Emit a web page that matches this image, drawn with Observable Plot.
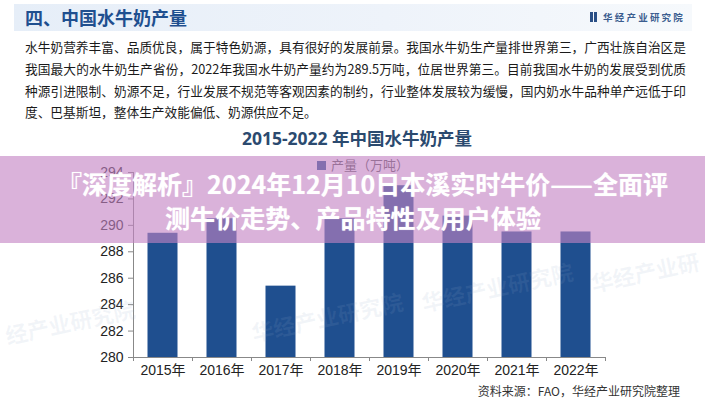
<!DOCTYPE html>
<html>
<head>
<meta charset="utf-8">
<script src="https://cdn.jsdelivr.net/npm/d3@7"></script>
<script src="https://cdn.jsdelivr.net/npm/@observablehq/plot@0.6"></script>
<style>
  html, body { margin: 0; padding: 0; background: #fff; }
  #page { position: relative; width: 705px; height: 400px; overflow: hidden; background: #fff;
          font-family: "Noto Sans CJK SC", "Noto Sans", sans-serif; }
  .abs { position: absolute; }
  #band { left: 14px; top: 4px; width: 678px; height: 27px;
          background: linear-gradient(to right, #e6eef8 0%, #eef3fa 55%, #f6f9fc 100%); }
  #h1 { left: 25px; top: 4px; font-size: 18px; font-weight: bold; color: #1f4f8f; line-height: 27px; }
  #logo { right: 20px; top: 4px; font-size: 9.5px; font-weight: bold; color: #3b5d8f; line-height: 27px; letter-spacing: 2.2px; }
  #logo b { display: inline-block; width: 3px; height: 10px; background: #2a4f86; margin-right: 1px; vertical-align: -1px; }
  #logo b + b { margin-right: 6px; }
  .pl { left: 25px; width: 661px; font-size: 12.7px; color: #1a1a1a; line-height: 16px;
        text-align: justify; text-align-last: justify; white-space: nowrap; }
  .pl.last { text-align-last: left; }
  #ctitle { left: 0; width: 714px; top: 126px; text-align: center; font-size: 17.5px; font-weight: bold;
            color: #2b4a6f; font-family: "Open Sans", "Noto Sans CJK SC", sans-serif; line-height: 24px; }
  #legend { left: 317px; top: 156px; font-size: 13px; color: #555; line-height: 18px; }
  #legend i { display: inline-block; width: 9px; height: 9px; background: #1f4f8f; margin-right: 5px; vertical-align: 0px; }
  #chart { left: 0; top: 155px; }
  #source { right: 25px; top: 383px; font-size: 12px; color: #333; line-height: 16px; }
  #banner { left: 0; top: 156px; width: 705px; height: 87px; background: rgba(195,130,195,0.62); z-index: 5; }
  .bt { color: #fff; font-size: 25px; font-weight: bold; line-height: 30px; transform-origin: 0 50%;
        font-family: "Noto Sans CJK SC", sans-serif; z-index: 6; white-space: nowrap; text-shadow: 0 0 1px rgba(255,255,255,0.6); }
  .wm { color: rgba(150,170,200,0.12); font-weight: bold; font-size: 22px; transform: rotate(-12deg); white-space: nowrap; }
</style>
</head>
<body>
<div id="page">
  <div id="band" class="abs"></div>
  <div id="h1" class="abs"></div>
  <div id="logo" class="abs"><b></b><b></b><span id="logotext"></span></div>
  <div id="para"></div>
  <div id="ctitle" class="abs"></div>
  <div id="chart" class="abs"></div>
  <div id="legend" class="abs"><i></i><span id="legtext"></span></div>
  <div id="source" class="abs"></div>
  <div class="abs wm" style="left:4px;top:305px;">经产业研究院</div>
  <div class="abs wm" style="left:250px;top:300px;">华经产业研究院</div>
  <div class="abs wm" style="left:420px;top:270px;">华经产业研究院</div>
  <div class="abs wm" style="left:590px;top:255px;">华经产业研</div>
  <div id="banner" class="abs"></div>
  <div id="bt1" class="abs bt" style="left:57px;top:168px;"></div>
  <div id="bt2" class="abs bt" style="left:165px;top:202px;"></div>
</div>
<script>
// ---- data ----
const years = ["2015年", "2016年", "2017年", "2018年", "2019年", "2020年", "2021年", "2022年"];
const output = [289.4, 290.5, 285.4, 290.5, 293.0, 290.7, 289.5, 289.5];
const yTicks = [280, 282, 284, 286, 288, 290, 292, 294];
const seriesName = "产量（万吨）";
const chartTitle = "2015-2022 年中国水牛奶产量";
const sectionTitle = "四、中国水牛奶产量";
const logoText = "华经产业研究院";
const paragraphLines = [
  "水牛奶营养丰富、品质优良，属于特色奶源，具有很好的发展前景。我国水牛奶生产量排世界第三，广西壮族自治区是",
  "我国最大的水牛奶生产省份，2022年我国水牛奶产量约为289.5万吨，位居世界第三。目前我国水牛奶的发展受到优质",
  "种源引进限制、奶源不足，行业发展不规范等客观因素的制约，行业整体发展较为缓慢，国内奶水牛品种单产远低于印",
  "度、巴基斯坦，整体生产效能偏低、奶源供应不足。"
];
const sourceText = "资料来源：FAO，华经产业研究院整理";
const bannerLines = ["『深度解析』2024年12月10日本溪实时牛价——全面评", "测牛价走势、产品特性及用户体验"];
const bannerWidths = [611, 376];

// ---- text ----
document.getElementById("h1").textContent = sectionTitle;
document.getElementById("logotext").textContent = logoText;
const para = document.getElementById("para");
paragraphLines.forEach((t, i) => {
  const d = document.createElement("div");
  d.className = "abs pl" + (i === paragraphLines.length - 1 ? " last" : "");
  d.style.top = (39 + i * 21.8) + "px";
  d.textContent = t;
  para.appendChild(d);
});
document.getElementById("ctitle").textContent = chartTitle;
document.getElementById("legtext").textContent = seriesName;
document.getElementById("source").textContent = sourceText;
["bt1", "bt2"].forEach((id, i) => {
  const el = document.getElementById(id);
  el.textContent = bannerLines[i];
  const w = el.getBoundingClientRect().width;
  if (w > 0) el.style.transform = `scaleX(${bannerWidths[i] / w})`;
});

// ---- chart ----
const data = years.map((y, i) => ({year: y, i, value: output[i]}));
const yMin = yTicks[0], yMax = yTicks[yTicks.length - 1];
const bounds = d3.range(years.length + 1);
const centers = years.map((_, i) => i + 0.5);

const chart = Plot.plot({
  width: 705,
  height: 245,
  marginLeft: 133,
  marginRight: 100,
  marginTop: 17,
  marginBottom: 43,
  style: {fontSize: "14px", fontFamily: "'Liberation Sans', Arial, 'Noto Sans CJK SC', sans-serif", color: "#222", background: "transparent"},
  x: {domain: [0, years.length], axis: null},
  y: {domain: [yMin, yMax], axis: null},
  marks: [
    Plot.rectY(data, {x1: "i", x2: d => d.i + 1, y1: () => yMin, y2: "value", fill: "#1f4f8f", insetLeft: 14.5, insetRight: 14.5}),
    Plot.ruleY([yMin], {stroke: "#888", strokeWidth: 1}),
    Plot.ruleX([0], {y1: yMin, y2: yMax, stroke: "#888", strokeWidth: 1}),
    Plot.axisY({ticks: yTicks, tickSize: 5, tickPadding: 5, stroke: "#888", fill: "#222", fontSize: 14, label: null}),
    Plot.axisX({ticks: bounds, tickSize: 4, tickFormat: () => "", stroke: "#888", label: null}),
    Plot.axisX({ticks: centers, tickSize: 0, tickPadding: 8, tickFormat: v => years[Math.round(v - 0.5)], fill: "#222", fontSize: 14, label: null})
  ]
});
document.getElementById("chart").appendChild(chart);
</script>
</body>
</html>
